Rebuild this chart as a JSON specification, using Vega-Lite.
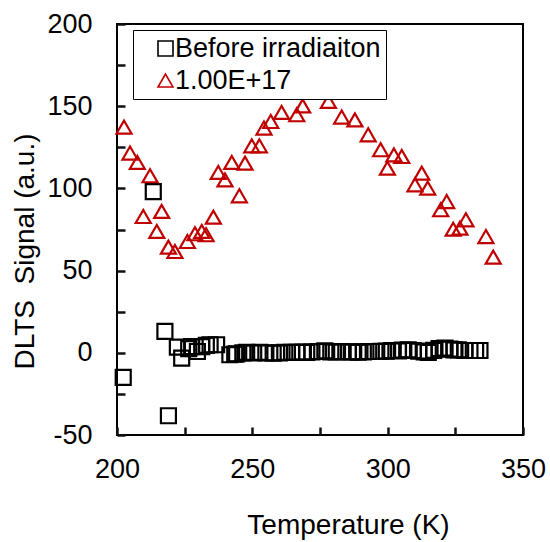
{
  "$schema": "https://vega.github.io/schema/vega-lite/v6.json",
  "autosize": {"type": "none"},
  "width": 406,
  "height": 411,
  "padding": {"left": 117, "top": 24, "right": 27, "bottom": 107},
  "background": "white",
  "config": {
    "font": "Liberation Sans",
    "view": {"stroke": "black", "strokeWidth": 2},
    "axis": {
      "domain": false,
      "grid": false,
      "labelColor": "black",
      "labelFontSize": 27,
      "labelFont": "Liberation Sans",
      "titleFont": "Liberation Sans",
      "titleFontSize": 28,
      "titleFontWeight": "normal",
      "titleColor": "black"
    }
  },
  "data": {
    "values": [
      {"series": "Before irradiaiton", "T": 202.3, "S": -15},
      {"series": "Before irradiaiton", "T": 213.4, "S": 98},
      {"series": "Before irradiaiton", "T": 217.7, "S": 13},
      {"series": "Before irradiaiton", "T": 219.0, "S": -38.3},
      {"series": "Before irradiaiton", "T": 222.3, "S": 3.5},
      {"series": "Before irradiaiton", "T": 223.9, "S": -3.2},
      {"series": "Before irradiaiton", "T": 226.5, "S": 2.5},
      {"series": "Before irradiaiton", "T": 227.6, "S": 3.8},
      {"series": "Before irradiaiton", "T": 229.7, "S": 0.8},
      {"series": "Before irradiaiton", "T": 231.3, "S": 3.8},
      {"series": "Before irradiaiton", "T": 233.0, "S": 4.5},
      {"series": "Before irradiaiton", "T": 234.4, "S": 4.9},
      {"series": "Before irradiaiton", "T": 236.8, "S": 4.9},
      {"series": "Before irradiaiton", "T": 241.7, "S": -1.2},
      {"series": "Before irradiaiton", "T": 243.5, "S": -0.8},
      {"series": "Before irradiaiton", "T": 244.2, "S": -0.6},
      {"series": "Before irradiaiton", "T": 246.5, "S": 0},
      {"series": "Before irradiaiton", "T": 247.9, "S": 0.2},
      {"series": "Before irradiaiton", "T": 250.5, "S": 0},
      {"series": "Before irradiaiton", "T": 252.8, "S": 0.2},
      {"series": "Before irradiaiton", "T": 255.0, "S": 0},
      {"series": "Before irradiaiton", "T": 257.7, "S": -0.2},
      {"series": "Before irradiaiton", "T": 260.0, "S": 0},
      {"series": "Before irradiaiton", "T": 262.0, "S": 0.2},
      {"series": "Before irradiaiton", "T": 264.5, "S": 0.2},
      {"series": "Before irradiaiton", "T": 266.5, "S": 0.3},
      {"series": "Before irradiaiton", "T": 268.5, "S": 0.4},
      {"series": "Before irradiaiton", "T": 270.1, "S": 0.2},
      {"series": "Before irradiaiton", "T": 272.0, "S": 0.5},
      {"series": "Before irradiaiton", "T": 274.4, "S": 0.8},
      {"series": "Before irradiaiton", "T": 276.8, "S": 1.2},
      {"series": "Before irradiaiton", "T": 279.0, "S": 0.6},
      {"series": "Before irradiaiton", "T": 281.0, "S": 0.5},
      {"series": "Before irradiaiton", "T": 283.0, "S": 0.8},
      {"series": "Before irradiaiton", "T": 285.5, "S": 0.6},
      {"series": "Before irradiaiton", "T": 287.0, "S": 0.5},
      {"series": "Before irradiaiton", "T": 289.1, "S": 0.4},
      {"series": "Before irradiaiton", "T": 291.0, "S": 0.6},
      {"series": "Before irradiaiton", "T": 293.0, "S": 0.8},
      {"series": "Before irradiaiton", "T": 295.3, "S": 0.8},
      {"series": "Before irradiaiton", "T": 297.5, "S": 0.9},
      {"series": "Before irradiaiton", "T": 299.5, "S": 1.0},
      {"series": "Before irradiaiton", "T": 301.5, "S": 1.4},
      {"series": "Before irradiaiton", "T": 304.0, "S": 1.2},
      {"series": "Before irradiaiton", "T": 305.5, "S": 1.6},
      {"series": "Before irradiaiton", "T": 307.6, "S": 1.8},
      {"series": "Before irradiaiton", "T": 309.5, "S": 1.4},
      {"series": "Before irradiaiton", "T": 311.5, "S": 1.0},
      {"series": "Before irradiaiton", "T": 313.5, "S": 0.6},
      {"series": "Before irradiaiton", "T": 315.0, "S": 0.2},
      {"series": "Before irradiaiton", "T": 317.0, "S": 1.5},
      {"series": "Before irradiaiton", "T": 319.0, "S": 2.5},
      {"series": "Before irradiaiton", "T": 321.2, "S": 2.9},
      {"series": "Before irradiaiton", "T": 323.0, "S": 2.2},
      {"series": "Before irradiaiton", "T": 324.5, "S": 1.8},
      {"series": "Before irradiaiton", "T": 326.1, "S": 1.8},
      {"series": "Before irradiaiton", "T": 328.5, "S": 1.4},
      {"series": "Before irradiaiton", "T": 330.4, "S": 1.4},
      {"series": "Before irradiaiton", "T": 332.5, "S": 1.4},
      {"series": "Before irradiaiton", "T": 334.1, "S": 1.4},
      {"series": "1.00E+17", "T": 202.6, "S": 137.3},
      {"series": "1.00E+17", "T": 204.8, "S": 121.5},
      {"series": "1.00E+17", "T": 207.5, "S": 115.8},
      {"series": "1.00E+17", "T": 209.7, "S": 82.9},
      {"series": "1.00E+17", "T": 212.2, "S": 107.7},
      {"series": "1.00E+17", "T": 214.7, "S": 73.8},
      {"series": "1.00E+17", "T": 216.5, "S": 86},
      {"series": "1.00E+17", "T": 219.0, "S": 64.3},
      {"series": "1.00E+17", "T": 221.4, "S": 61.6},
      {"series": "1.00E+17", "T": 226.0, "S": 67.7},
      {"series": "1.00E+17", "T": 228.8, "S": 72.4},
      {"series": "1.00E+17", "T": 231.3, "S": 73.8},
      {"series": "1.00E+17", "T": 232.9, "S": 71.8},
      {"series": "1.00E+17", "T": 235.6, "S": 82.5},
      {"series": "1.00E+17", "T": 237.4, "S": 109.7},
      {"series": "1.00E+17", "T": 239.9, "S": 105.2},
      {"series": "1.00E+17", "T": 242.4, "S": 115.8},
      {"series": "1.00E+17", "T": 245.2, "S": 95.5},
      {"series": "1.00E+17", "T": 247.3, "S": 115.4},
      {"series": "1.00E+17", "T": 249.8, "S": 125.9},
      {"series": "1.00E+17", "T": 252.6, "S": 125.9},
      {"series": "1.00E+17", "T": 254.3, "S": 136.7},
      {"series": "1.00E+17", "T": 256.8, "S": 140.7},
      {"series": "1.00E+17", "T": 260.8, "S": 146.2},
      {"series": "1.00E+17", "T": 266.4, "S": 144.8},
      {"series": "1.00E+17", "T": 268.6, "S": 150.2},
      {"series": "1.00E+17", "T": 278.1, "S": 152.9},
      {"series": "1.00E+17", "T": 283.0, "S": 143.4},
      {"series": "1.00E+17", "T": 287.9, "S": 141.7},
      {"series": "1.00E+17", "T": 292.8, "S": 132.6},
      {"series": "1.00E+17", "T": 297.4, "S": 123.5},
      {"series": "1.00E+17", "T": 299.9, "S": 112.3},
      {"series": "1.00E+17", "T": 302.3, "S": 120.4},
      {"series": "1.00E+17", "T": 305.2, "S": 119.4},
      {"series": "1.00E+17", "T": 310.1, "S": 102.2},
      {"series": "1.00E+17", "T": 312.6, "S": 109.3},
      {"series": "1.00E+17", "T": 314.8, "S": 100.2},
      {"series": "1.00E+17", "T": 319.6, "S": 87},
      {"series": "1.00E+17", "T": 321.8, "S": 92},
      {"series": "1.00E+17", "T": 324.2, "S": 75.2},
      {"series": "1.00E+17", "T": 326.7, "S": 75.8},
      {"series": "1.00E+17", "T": 328.9, "S": 80.9},
      {"series": "1.00E+17", "T": 336.3, "S": 70.7},
      {"series": "1.00E+17", "T": 339.0, "S": 58.2}
    ]
  },
  "mark": {"type": "point", "filled": false, "size": 225, "strokeWidth": 2.2, "opacity": 1},
  "encoding": {
    "x": {
      "field": "T", "type": "quantitative",
      "scale": {"domain": [200, 350], "nice": false, "zero": false},
      "axis": {
        "title": "Temperature (K)",
        "values": [200, 225, 250, 275, 300, 325, 350],
        "labelExpr": "datum.value % 50 == 0 ? '' + datum.value : ''",
        "tickSize": -8,
        "tickColor": "#111111",
        "tickWidth": 2.5,
        "zindex": 2,
        "labelPadding": 29,
        "labelFlush": false,
        "titleX": 231,
        "titleY": 90,
        "titleBaseline": "middle"
      }
    },
    "y": {
      "field": "S", "type": "quantitative",
      "scale": {"domain": [-50, 200], "nice": false, "zero": false},
      "axis": {
        "title": "DLTS\u00a0\u00a0Signal (a.u.)",
        "values": [-50, -25, 0, 25, 50, 75, 100, 125, 150, 175, 200],
        "labelExpr": "datum.value % 50 == 0 ? '' + datum.value : ''",
        "tickSize": -8,
        "tickColor": "#111111",
        "tickWidth": 2.5,
        "zindex": 2,
        "labelPadding": 33,
        "labelFlush": false,
        "titleX": -92,
        "titleY": 227,
        "titleBaseline": "middle",
        "titleAngle": -90
      }
    },
    "color": {
      "field": "series", "type": "nominal",
      "scale": {"domain": ["Before irradiaiton", "1.00E+17"], "range": ["black", "#C00000"]},
      "legend": {
        "title": null,
        "orient": "none",
        "legendX": 16,
        "legendY": 6,
        "strokeColor": "black",
        "fillColor": "white",
        "padding": 5,
        "symbolOffset": 14,
        "symbolSize": 225,
        "symbolStrokeWidth": 1.6,
        "labelFontSize": 27,
        "labelLimit": 400,
        "labelColor": "black",
        "labelOffset": -4,
        "rowPadding": 4
      }
    },
    "shape": {
      "field": "series", "type": "nominal",
      "scale": {"domain": ["Before irradiaiton", "1.00E+17"], "range": ["square", "triangle-up"]}
    }
  }
}
